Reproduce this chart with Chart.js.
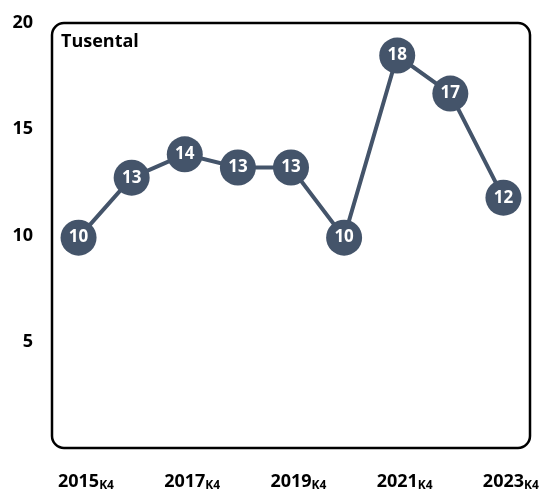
<!DOCTYPE html>
<html>
<head>
<meta charset="utf-8">
<script src="https://cdn.jsdelivr.net/npm/chart.js@4.4.1/dist/chart.umd.min.js"></script>
<style>
  body { margin: 0; background: #fff; }
  #wrap { width: 548px; height: 491px; position: relative; }
</style>
</head>
<body>
<div id="wrap"><canvas id="myChart"></canvas></div>
<script>
// quarters (K4 of each year)
const years = ['2015', '2016', '2017', '2018', '2019', '2020', '2021', '2022', '2023'];
const quarter = 'K4';
// values in thousands
const values = [9.9, 12.72, 13.82, 13.2, 13.2, 9.9, 18.47, 16.68, 11.78];
// only every other year gets a label on the x axis
const shownYears = ['2015', '2017', '2019', '2021', '2023'];
const yTicks = [5, 10, 15, 20];
const unitLabel = 'Tusental';

const slate = '#44546A';
const fontFam = '"Open Sans", "Liberation Sans", sans-serif';

// rounded box around the plot + "Tusental"
const boxPlugin = {
  id: 'box',
  beforeDatasetsDraw(chart) {
    const { ctx, chartArea: a } = chart;
    ctx.save();
    ctx.lineWidth = 2.5;
    ctx.strokeStyle = '#000';
    ctx.beginPath();
    ctx.roundRect(a.left, a.top, a.right - a.left, a.bottom - a.top, 12);
    ctx.stroke();
    ctx.fillStyle = '#000';
    ctx.font = 'bold 18px ' + fontFam;
    ctx.textAlign = 'left';
    ctx.textBaseline = 'alphabetic';
    ctx.fillText(unitLabel, a.left + 9, a.top + 24);
    ctx.restore();
  },
  afterDatasetsDraw(chart) {
    const { ctx } = chart;
    const meta = chart.getDatasetMeta(0);
    ctx.save();
    ctx.fillStyle = '#fff';
    ctx.font = 'bold 17px ' + fontFam;
    ctx.textAlign = 'center';
    ctx.textBaseline = 'middle';
    meta.data.forEach((pt, i) => {
      ctx.fillText(Math.round(values[i]), pt.x, pt.y);
    });
    ctx.restore();
  },
  afterDraw(chart) {
    // x labels: year with a subscript quarter
    const { ctx } = chart;
    const x = chart.scales.x;
    ctx.save();
    ctx.fillStyle = '#000';
    ctx.textBaseline = 'alphabetic';
    shownYears.forEach(y => {
      const px = x.getPixelForValue(years.indexOf(y));
      ctx.font = 'bold 18px ' + fontFam;
      const w = ctx.measureText(y).width;
      ctx.textAlign = 'left';
      ctx.fillText(y, px - w / 2, 487);
      ctx.font = 'bold 12px ' + fontFam;
      ctx.fillText(quarter, px + w / 2, 489);
    });
    ctx.restore();
  }
};

const config = {
  type: 'line',
  data: {
    labels: years,
    datasets: [{
      data: values,
      borderColor: slate,
      borderWidth: 4,
      backgroundColor: slate,
      pointBackgroundColor: slate,
      pointBorderWidth: 0,
      pointRadius: 18,
      pointHoverRadius: 18,
      tension: 0
    }]
  },
  options: {
    responsive: true,
    maintainAspectRatio: false,
    animation: false,
    layout: { padding: { top: 23, right: 17, left: 0, bottom: 0 } },
    plugins: {
      legend: { display: false },
      tooltip: { enabled: false }
    },
    scales: {
      x: {
        type: 'category',
        offset: true,
        grid: { display: false, drawTicks: false },
        border: { display: false },
        ticks: { display: false },
        afterFit(s) { s.height = 43; s.paddingLeft = 0; s.paddingRight = 0; }
      },
      y: {
        min: 0,
        max: 20,
        grid: { display: false, drawTicks: false },
        border: { display: false },
        afterBuildTicks(s) { s.ticks = yTicks.map(v => ({ value: v })); },
        ticks: {
          padding: 19,
          color: '#000',
          font: { family: fontFam, size: 18, weight: 'bold' }
        },
        afterFit(s) { s.width = 52; s.paddingTop = 0; s.paddingBottom = 0; }
      }
    }
  },
  plugins: [boxPlugin]
};

new Chart(document.getElementById('myChart'), config);
</script>
</body>
</html>
